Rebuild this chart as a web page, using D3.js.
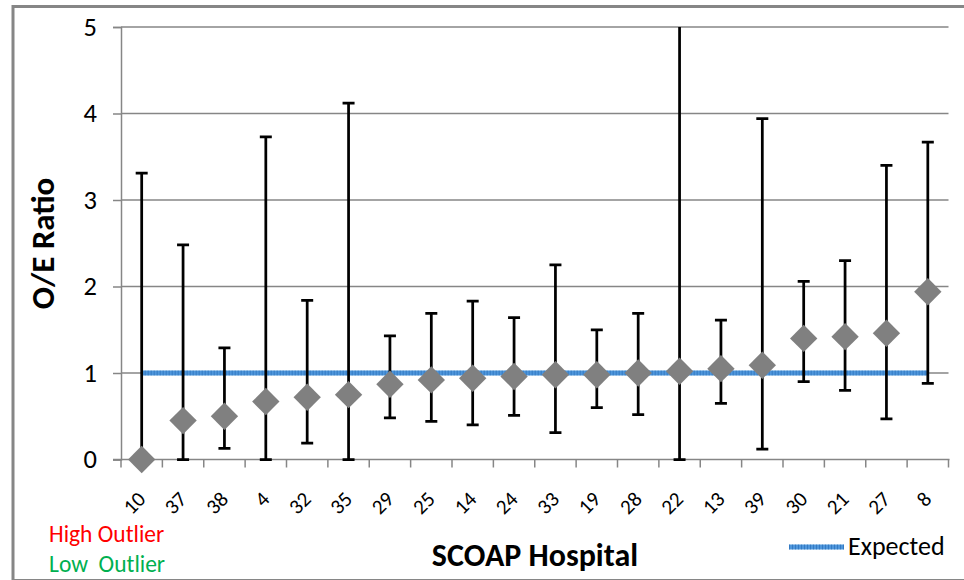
<!DOCTYPE html>
<html><head><meta charset="utf-8">
<script src="https://cdn.jsdelivr.net/npm/d3@7/dist/d3.min.js"></script>
<style>body{margin:0;background:#fff}svg{display:block}text{font-family:Carlito,Lato,"Open Sans",sans-serif}</style>
</head><body>
<svg id="chart" width="964" height="580"></svg>
<script>
const hospitals = ["10","37","38","4","32","35","29","25","14","24","33","19","28","22","13","39","30","21","27","8"];
const oeRatio  = [0.00,0.45,0.50,0.67,0.72,0.75,0.87,0.92,0.94,0.96,0.98,0.98,1.00,1.02,1.05,1.09,1.40,1.42,1.46,1.94];
const upperCI  = [3.31,2.48,1.29,3.73,1.84,4.12,1.43,1.69,1.83,1.64,2.25,1.50,1.69,6.00,1.61,3.94,2.06,2.30,3.40,3.67];
const lowerCI  = [0.00,0.00,0.13,0.00,0.19,0.00,0.48,0.44,0.40,0.51,0.31,0.60,0.52,0.00,0.65,0.12,0.90,0.80,0.47,0.88];
const expectedValue = 1;
const yTicks = [0,1,2,3,4,5];

(function(){
const svg = d3.select("#chart");
const pL = 121, pR = 948.5, pT = 27, pB = 459.5;
const gridColor = "#868686";
const ff = 'Carlito,Lato,"Open Sans",sans-serif';

// outer border
svg.append("rect").attr("x",13).attr("y",6.5).attr("width",960).attr("height",574)
  .attr("fill","none").attr("stroke",gridColor).attr("stroke-width",3);

const x = d3.scaleBand().domain(hospitals).range([pL,pR]).paddingInner(0).paddingOuter(0);
const y = d3.scaleLinear().domain([0,5]).range([pB,pT]);

// gridlines and y axis
const yAxis = d3.axisLeft(y).tickValues(yTicks).tickSize(8).tickPadding(16).tickFormat(d3.format("d"));
const gy = svg.append("g").attr("transform",`translate(${pL},0)`).call(yAxis);
gy.select(".domain").attr("stroke",gridColor).attr("stroke-width",1.5);
gy.selectAll(".tick line").attr("stroke",gridColor).attr("stroke-width",1.5);
gy.selectAll(".tick text").attr("font-size",26.5).attr("fill","#000").style("font-family",ff);
svg.append("g").selectAll("line").data(yTicks.filter(d=>d>0)).join("line")
  .attr("x1",pL).attr("x2",pR).attr("y1",d=>y(d)).attr("y2",d=>y(d))
  .attr("stroke",gridColor).attr("stroke-width",1.5);

// x axis with boundary ticks
svg.append("line").attr("x1",pL-8).attr("x2",pR+1).attr("y1",pB).attr("y2",pB)
  .attr("stroke",gridColor).attr("stroke-width",1.5);
const bounds = hospitals.map(h=>x(h)).concat([x(hospitals[hospitals.length-1])+x.bandwidth()]);
svg.append("g").selectAll("line").data(bounds).join("line")
  .attr("x1",d=>d).attr("x2",d=>d).attr("y1",pB).attr("y2",pB+8)
  .attr("stroke",gridColor).attr("stroke-width",1.5);
const cx = h => x(h)+x.bandwidth()/2;
svg.append("g").selectAll("text").data(hospitals).join("text")
  .attr("transform",d=>`translate(${cx(d)+5},${pB+41}) rotate(-45)`)
  .attr("text-anchor","end").attr("font-size",21).attr("fill","#000").text(d=>d);

// expected line
const exp = svg.append("g");
exp.append("line").attr("x1",cx(hospitals[0])).attr("x2",cx(hospitals[hospitals.length-1]))
  .attr("y1",y(expectedValue)).attr("y2",y(expectedValue))
  .attr("stroke","#4f97dc").attr("stroke-width",5);
exp.append("line").attr("x1",cx(hospitals[0])).attr("x2",cx(hospitals[hospitals.length-1]))
  .attr("y1",y(expectedValue)).attr("y2",y(expectedValue))
  .attr("stroke","#1f64b0").attr("stroke-width",5).attr("stroke-dasharray","1,2").attr("opacity",0.55);

// error bars (clipped to plot)
svg.append("clipPath").attr("id","plotclip").append("rect")
  .attr("x",pL-20).attr("y",pT).attr("width",pR-pL+40).attr("height",pB-pT+20);
const eb = svg.append("g").attr("clip-path","url(#plotclip)");
const data = hospitals.map((h,i)=>({h, v:oeRatio[i], hi:upperCI[i], lo:lowerCI[i]}));
const sw = 2.75;
eb.selectAll("line.up").data(data).join("line").attr("class","up")
  .attr("x1",d=>cx(d.h)).attr("x2",d=>cx(d.h)).attr("y1",d=>y(d.v)).attr("y2",d=>y(d.hi))
  .attr("stroke","#000").attr("stroke-width",sw);
eb.selectAll("line.upcap").data(data).join("line").attr("class","upcap")
  .attr("x1",d=>cx(d.h)-6).attr("x2",d=>cx(d.h)+6).attr("y1",d=>y(d.hi)).attr("y2",d=>y(d.hi))
  .attr("stroke","#000").attr("stroke-width",sw);
eb.selectAll("line.lo").data(data.filter(d=>d.lo<d.v)).join("line").attr("class","lo")
  .attr("x1",d=>cx(d.h)).attr("x2",d=>cx(d.h)).attr("y1",d=>y(d.v)).attr("y2",d=>y(d.lo))
  .attr("stroke","#000").attr("stroke-width",sw);
eb.selectAll("line.locap").data(data.filter(d=>d.lo<d.v)).join("line").attr("class","locap")
  .attr("x1",d=>cx(d.h)-6).attr("x2",d=>cx(d.h)+6).attr("y1",d=>y(d.lo)).attr("y2",d=>y(d.lo))
  .attr("stroke","#000").attr("stroke-width",sw);

// diamonds
const diamond = d3.symbol().type(d3.symbolSquare).size(375);
svg.append("g").selectAll("path").data(data).join("path")
  .attr("d",diamond)
  .attr("transform",d=>`translate(${cx(d.h)},${y(d.v)}) rotate(45)`)
  .attr("fill","#808080");

// axis titles
svg.append("text").attr("transform","translate(54,243.5) rotate(-90)").attr("text-anchor","middle")
  .attr("font-size",33).attr("font-weight","bold").attr("fill","#000").text("O/E Ratio");
svg.append("text").attr("x",535).attr("y",566).attr("text-anchor","middle")
  .attr("font-size",32).attr("font-weight","bold").attr("fill","#000").text("SCOAP Hospital");

// outlier notes
svg.append("text").attr("x",49).attr("y",541.5).attr("font-size",23.5).attr("fill","#ff0000").text("High Outlier");
svg.append("text").attr("x",49).attr("y",572).attr("font-size",23.5).attr("fill","#00b050").attr("xml:space","preserve").text("Low  Outlier");

// legend
const lg = svg.append("g");
lg.append("line").attr("x1",789).attr("x2",844).attr("y1",547).attr("y2",547).attr("stroke","#4f97dc").attr("stroke-width",5);
lg.append("line").attr("x1",789).attr("x2",844).attr("y1",547).attr("y2",547).attr("stroke","#1f64b0").attr("stroke-width",5).attr("stroke-dasharray","1,2").attr("opacity",0.55);
lg.append("text").attr("x",848).attr("y",555).attr("font-size",26).attr("fill","#000").text("Expected");
})();
</script>
</body></html>
